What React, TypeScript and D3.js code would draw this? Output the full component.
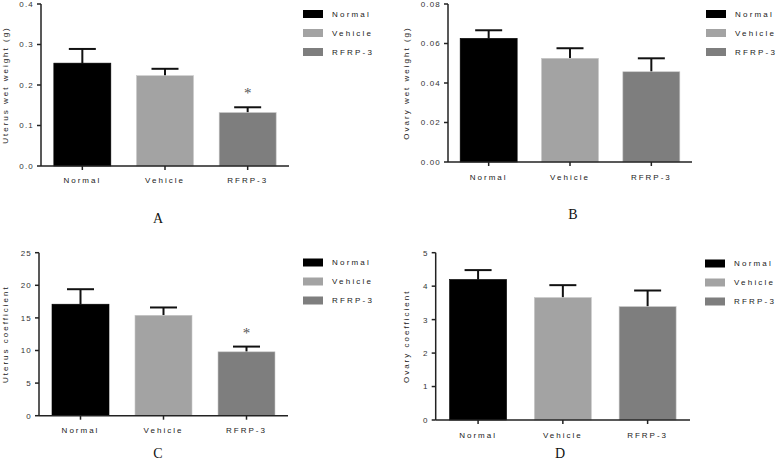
import React from "react";
import * as d3 from "d3";

const groups = ["Normal", "Vehicle", "RFRP-3"];
const colors = ["#000000", "#a3a3a3", "#7e7e7e"];

const uterusWeight = [0.254, 0.223, 0.132];
const uterusWeightErr = [0.289, 0.240, 0.145];
const ovaryWeight = [0.0626, 0.0525, 0.0457];
const ovaryWeightErr = [0.0667, 0.0576, 0.0525];
const uterusCoef = [17.1, 15.4, 9.8];
const uterusCoefErr = [19.4, 16.6, 10.6];
const ovaryCoef = [4.2, 3.66, 3.39];
const ovaryCoefErr = [4.48, 4.03, 3.87];

const ticksA = [0, 0.1, 0.2, 0.3, 0.4];
const ticksB = [0, 0.02, 0.04, 0.06, 0.08];
const ticksC = [0, 5, 10, 15, 20, 25];
const ticksD = [0, 1, 2, 3, 4, 5];

const sig = [false, false, true];

type PanelProps = {
  ax: number; top: number; bottom: number; xEnd: number;
  domain: [number, number]; ticks: number[]; fmt: string;
  values: number[]; errs: number[]; stars: boolean[];
  ylabel: string; ylabelX: number; xlabY: number;
  legX: number; legY: number; letter: string; letterX: number; letterY: number;
};

const font = "'Liberation Sans', Arial, sans-serif";

function Panel(p: PanelProps) {
  const y = d3.scaleLinear().domain(p.domain).range([p.bottom, p.top]);
  const x = d3.scalePoint<string>().domain(groups).range([p.ax, p.xEnd]).padding(0.5);
  const bw = 57;
  const f = d3.format(p.fmt);
  const capW = 27;
  return (
    <g>
      {groups.map((g, i) => (
        <g key={g}>
          <line x1={x(g)!} x2={x(g)!} y1={y(p.values[i])} y2={y(p.errs[i])} stroke="#111" strokeWidth={2} />
          <line x1={x(g)! - capW / 2} x2={x(g)! + capW / 2} y1={y(p.errs[i])} y2={y(p.errs[i])} stroke="#111" strokeWidth={2} />
          <rect x={x(g)! - bw / 2} y={y(p.values[i])} width={bw} height={p.bottom - y(p.values[i])} fill={colors[i]} stroke={i === 0 ? "#000" : "#c8c8c8"} strokeWidth={0.6} />
          {p.stars[i] && (
            <text x={x(g)!} y={y(p.errs[i]) - 9} textAnchor="middle" fontSize={15} fill="#555555" fontFamily="'Liberation Serif', serif">*</text>
          )}
          <line x1={x(g)!} x2={x(g)!} y1={p.bottom} y2={p.bottom + 4} stroke="#222" strokeWidth={1.5} />
          <text x={x(g)!} y={p.xlabY} textAnchor="middle" fontSize={8} letterSpacing={2} fill="#222" fontFamily={font}>{g}</text>
        </g>
      ))}
      <line x1={p.ax} x2={p.ax} y1={p.top} y2={p.bottom} stroke="#222" strokeWidth={1.5} />
      <line x1={p.ax} x2={p.xEnd} y1={p.bottom} y2={p.bottom} stroke="#222" strokeWidth={1.5} />
      {p.ticks.map((t) => (
        <g key={t}>
          <line x1={p.ax - 4} x2={p.ax} y1={y(t)} y2={y(t)} stroke="#222" strokeWidth={1.5} />
          <text x={p.ax - 7} y={y(t) + 2.9} textAnchor="end" fontSize={8} letterSpacing={1.2} fill="#333" fontFamily={font}>{f(t)}</text>
        </g>
      ))}
      <text transform={`translate(${p.ylabelX},${(p.top + p.bottom) / 2}) rotate(-90)`} textAnchor="middle" fontSize={8} letterSpacing={2} fill="#222" fontFamily={font}>{p.ylabel}</text>
      {groups.map((g, i) => (
        <g key={"l" + g}>
          <rect x={p.legX} y={p.legY + i * 19 - 4} width={20} height={8} fill={colors[i]} />
          <text x={p.legX + 29} y={p.legY + i * 19 + 2.9} fontSize={8} letterSpacing={2.2} fill="#222" fontFamily={font}>{g}</text>
        </g>
      ))}
      <text x={p.letterX} y={p.letterY} textAnchor="middle" fontSize={14} fill="#111" fontFamily="'Liberation Serif', 'Times New Roman', serif">{p.letter}</text>
    </g>
  );
}

export default function App() {
  return (
    <svg width={778} height={469} style={{ position: "absolute", left: 0, top: 0, background: "#fff" }}>
      <rect width={778} height={469} fill="#fff" />
      <Panel ax={41} top={4} bottom={166} xEnd={289} domain={[0, 0.4]} ticks={ticksA} fmt=".1f"
        values={uterusWeight} errs={uterusWeightErr} stars={sig} ylabel="Uterus wet weight (g)" ylabelX={8} xlabY={183}
        legX={303} legY={14} letter="A" letterX={158} letterY={223} />
      <Panel ax={448} top={4} bottom={162} xEnd={692} domain={[0, 0.08]} ticks={ticksB} fmt=".2f"
        values={ovaryWeight} errs={ovaryWeightErr} stars={[false, false, false]} ylabel="Ovary wet weight (g)" ylabelX={409} xlabY={180}
        legX={706} legY={14} letter="B" letterX={573} letterY={219} />
      <Panel ax={39} top={252.7} bottom={415.7} xEnd={288} domain={[0, 25]} ticks={ticksC} fmt="d"
        values={uterusCoef} errs={uterusCoefErr} stars={sig} ylabel="Uterus coefficient" ylabelX={8} xlabY={433}
        legX={303} legY={262.5} letter="C" letterX={158} letterY={458} />
      <Panel ax={435.7} top={252.7} bottom={420} xEnd={690} domain={[0, 5]} ticks={ticksD} fmt="d"
        values={ovaryCoef} errs={ovaryCoefErr} stars={[false, false, false]} ylabel="Ovary coefficient" ylabelX={409} xlabY={438}
        legX={705} legY={263.5} letter="D" letterX={560} letterY={458} />
    </svg>
  );
}
